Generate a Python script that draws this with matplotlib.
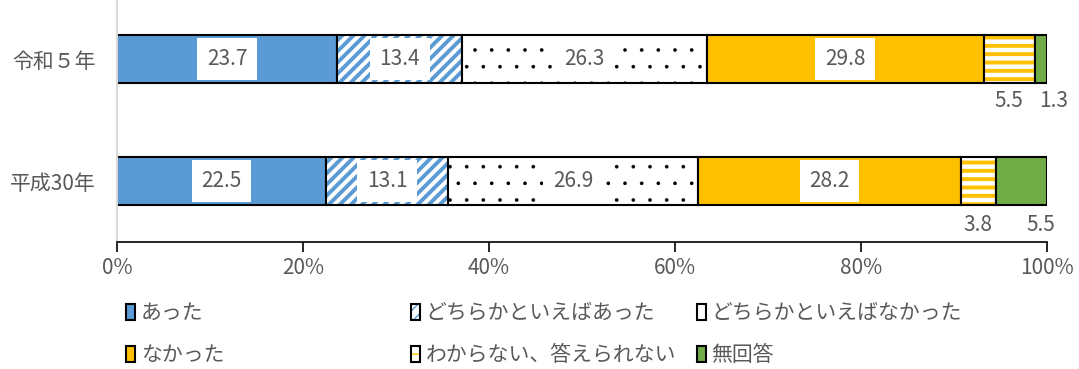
import matplotlib
matplotlib.use('Agg')
import matplotlib.pyplot as plt
from matplotlib.patches import Patch

plt.rcParams['font.family'] = ['Noto Sans CJK JP', 'DejaVu Sans']

## data
years = ['令和５年', '平成30年']
categories = ['あった', 'どちらかといえばあった', 'どちらかといえばなかった',
              'なかった', 'わからない、答えられない', '無回答']
reiwa5 = [23.7, 13.4, 26.3, 29.8, 5.5, 1.3]
heisei30 = [22.5, 13.1, 26.9, 28.2, 3.8, 5.5]
rows = [reiwa5, heisei30]
ticks = [0, 20, 40, 60, 80, 100]

## styles: face colour, hatch, hatch colour, hatch width
BLUE = '#5B9BD5'
ORANGE = '#FFC000'
GREEN = '#70AD47'
GRAY = '#595959'
styles = [
    (BLUE, None, BLUE, 1.0),
    ('white', '///', BLUE, 2.8),
    ('white', '.', 'black', 0.2),
    (ORANGE, None, ORANGE, 1.0),
    ('white', '--', ORANGE, 2.8),
    (GREEN, None, GREEN, 1.0),
]
# label offsets (points) for the small segments printed under the bars
outside_offset = {(0, 4): 0, (0, 5): 9, (1, 4): 0, (1, 5): 14}
outside_dy = {0: -0.34, 1: -0.36}

FS = 15

fig = plt.figure(figsize=(10.79, 3.69), dpi=100)
ax = fig.add_axes([117 / 1079, 127 / 369, 930 / 1079, 242 / 369])

ypos = [1, 0]
H = 0.4


def make_bar(y, w, left, face, hatch, hcol, hlw):
    with plt.rc_context({'hatch.linewidth': hlw}):
        b = ax.barh(y, w, left=left, height=H, color=face, edgecolor=hcol,
                    hatch=hatch, linewidth=0)
    for p in b:
        if hasattr(p, 'set_hatch_linewidth'):
            p.set_hatch_linewidth(hlw)
    ax.barh(y, w, left=left, height=H, fill=False, edgecolor='black', linewidth=1.5)
    return b


for r, (y, vals) in enumerate(zip(ypos, rows)):
    left = 0
    for i, v in enumerate(vals):
        face, hatch, hcol, hlw = styles[i]
        make_bar(y, v, left, face, hatch, hcol, hlw)
        cx = left + v / 2
        if i < 4:
            ax.text(cx, y, f'{v:.1f}', ha='center', va='center', fontsize=FS,
                    color=GRAY, zorder=5,
                    bbox=dict(boxstyle='square,pad=0.46', fc='white', ec='none'))
        else:
            ax.annotate(f'{v:.1f}', (cx, y - H / 2 + outside_dy[r] + 0.2),
                        xytext=(outside_offset[(r, i)], 0), textcoords='offset points',
                        ha='center', va='center', fontsize=FS, color=GRAY,
                        annotation_clip=False)
        left += v

ax.set_xlim(0, 100)
ax.set_ylim(-0.5, 1.484)
ax.set_yticks(ypos)
ax.set_yticklabels(years, fontsize=FS, color=GRAY)
ax.set_xticks(ticks)
ax.set_xticklabels([f'{t}%' for t in ticks], fontsize=FS, color=GRAY)
ax.tick_params(axis='y', length=0, pad=15)
ax.tick_params(axis='x', direction='out', length=7, width=1.2, color='black', pad=4)
for s in ['top', 'right']:
    ax.spines[s].set_visible(False)
ax.spines['left'].set_color('#D9D9D9')
ax.spines['left'].set_linewidth(1.5)
ax.spines['bottom'].set_color('black')
ax.spines['bottom'].set_linewidth(1.2)


## legend, built column by column
def handle(i):
    face, hatch, hcol, hlw = styles[i]
    with plt.rc_context({'hatch.linewidth': hlw}):
        p = Patch(facecolor=face, edgecolor=hcol, hatch=hatch, linewidth=0)
    if hasattr(p, 'set_hatch_linewidth'):
        p.set_hatch_linewidth(hlw)
    o = Patch(fill=False, edgecolor='black', linewidth=1.5)
    return (p, o)


col_x = [126, 411, 697]
col_items = [[0, 3], [1, 4], [2, 5]]
for x, items in zip(col_x, col_items):
    leg = fig.legend([handle(i) for i in items], [categories[i] for i in items],
                     loc='upper left', bbox_to_anchor=(x / 1079, 1 - 302 / 369),
                     frameon=False, borderpad=0, borderaxespad=0,
                     handlelength=0.45, handleheight=0.8, handletextpad=0.25,
                     labelspacing=0.95, fontsize=FS)
    for t in leg.get_texts():
        t.set_color(GRAY)

fig.savefig('out.png', dpi=100)
